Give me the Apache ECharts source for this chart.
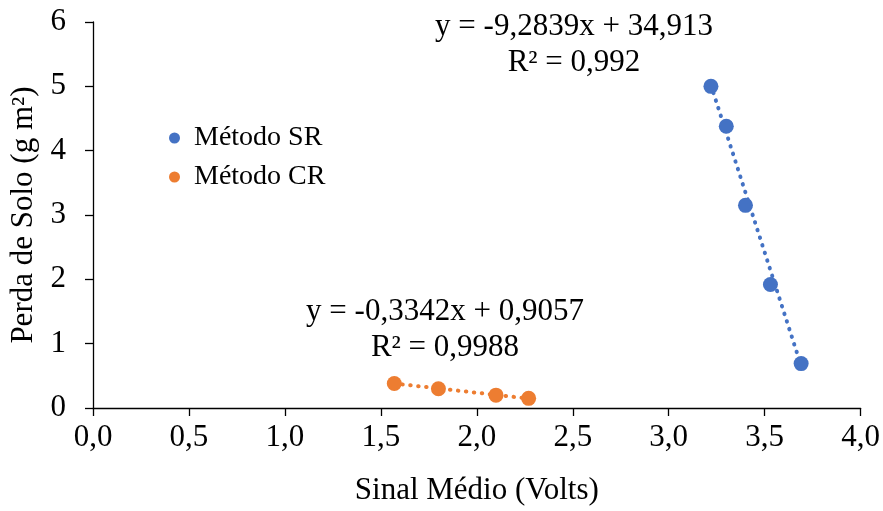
<!DOCTYPE html>
<html>
<head>
<meta charset="utf-8">
<script src="https://cdn.jsdelivr.net/npm/echarts@6/dist/echarts.min.js"></script>
<style>
  html, body { margin: 0; padding: 0; background: #fff; }
  #chart { width: 883px; height: 511px; }
</style>
</head>
<body>
<div id="chart"></div>
<script>
// Soil loss vs. mean sensor signal for the two methods
const srName = 'Método SR';
const crName = 'Método CR';
const srSignal = [3.22, 3.30, 3.40, 3.53, 3.69];
const srLoss   = [5.00, 4.38, 3.15, 1.92, 0.69];
const crSignal = [1.57, 1.80, 2.10, 2.27];
const crLoss   = [0.38, 0.30, 0.20, 0.15];

// Linear fits (slope, intercept) and their R²
const srFit = [-9.2839, 34.913];
const srR2 = '0,992';
const crFit = [-0.3342, 0.9057];
const crR2 = '0,9988';

const xTitle = 'Sinal Médio (Volts)';
const yTitle = 'Perda de Solo (g m²)';

const BLUE = '#4472C4';
const ORANGE = '#ED7D31';
const FONT = '"Liberation Serif", "Times New Roman", serif';
const FS = 31;

const pairs = (xs, ys) => xs.map((x, i) => [x, ys[i]]);
const fitLine = (xs, fit) => {
  const lo = Math.min(...xs), hi = Math.max(...xs);
  return [[lo, fit[0] * lo + fit[1]], [hi, fit[0] * hi + fit[1]]];
};
const comma = (v, d) => v.toFixed(d).replace('.', ',');
const eqText = fit => 'y = ' + String(fit[0]).replace('.', ',') + 'x + ' + String(fit[1]).replace('.', ',');

const chart = echarts.init(document.getElementById('chart'), null, { renderer: 'canvas' });

const dotted = color => ({ color: color, width: 4, type: [0.5, 7.5], cap: 'round' });
const eqStyle = text => ({ text: text, font: FS + 'px ' + FONT, fill: '#000', align: 'center', verticalAlign: 'middle' });

chart.setOption({
  backgroundColor: '#fff',
  animation: false,
  textStyle: { fontFamily: FONT },
  grid: { left: 93, right: 21, top: 22, bottom: 99 },
  legend: {
    left: 164, top: 118, orient: 'vertical',
    data: [srName, crName],
    icon: 'circle', itemWidth: 11, itemHeight: 11, itemGap: 9,
    textStyle: { fontFamily: FONT, fontSize: 28, color: '#000', lineHeight: 30, padding: [0, 0, 0, 9] }
  },
  xAxis: {
    type: 'value', min: 0, max: 4, interval: 0.5,
    name: xTitle, nameLocation: 'middle', nameGap: 67,
    nameTextStyle: { fontFamily: FONT, fontSize: FS, color: '#000' },
    axisLine: { show: true, onZero: false, lineStyle: { color: '#000', width: 1.3 } },
    axisTick: { show: true, length: 8, lineStyle: { color: '#000', width: 1.3 } },
    axisLabel: { margin: 14, fontFamily: FONT, fontSize: FS, color: '#000', formatter: v => comma(v, 1) },
    splitLine: { show: false }
  },
  yAxis: {
    type: 'value', min: 0, max: 6, interval: 1,
    name: yTitle, nameLocation: 'middle', nameGap: 54,
    nameTextStyle: { fontFamily: FONT, fontSize: FS, color: '#000' },
    axisLine: { show: true, lineStyle: { color: '#000', width: 1.3 } },
    axisTick: { show: true, length: 8, lineStyle: { color: '#000', width: 1.3 } },
    axisLabel: { margin: 27, fontFamily: FONT, fontSize: FS, color: '#000' },
    splitLine: { show: false }
  },
  series: [
    {
      name: srName + ' fit', type: 'line', data: fitLine(srSignal, srFit),
      symbol: 'none', lineStyle: dotted(BLUE), silent: true, z: 1
    },
    {
      name: crName + ' fit', type: 'line', data: fitLine(crSignal, crFit),
      symbol: 'none', lineStyle: dotted(ORANGE), silent: true, z: 1
    },
    {
      name: srName, type: 'scatter', data: pairs(srSignal, srLoss),
      symbol: 'circle', symbolSize: 15, itemStyle: { color: BLUE, opacity: 1 }, z: 3
    },
    {
      name: crName, type: 'scatter', data: pairs(crSignal, crLoss),
      symbol: 'circle', symbolSize: 15, itemStyle: { color: ORANGE, opacity: 1 }, z: 3
    }
  ],
  graphic: [
    { type: 'text', x: 574, y: 27, style: eqStyle(eqText(srFit)) },
    { type: 'text', x: 574, y: 63, style: eqStyle('R² = ' + srR2) },
    { type: 'text', x: 445, y: 312, style: eqStyle(eqText(crFit)) },
    { type: 'text', x: 445, y: 348, style: eqStyle('R² = ' + crR2) }
  ]
});
</script>
</body>
</html>
